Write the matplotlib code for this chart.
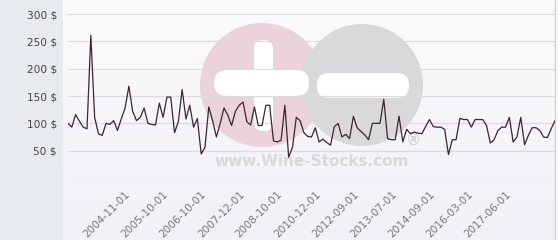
import matplotlib
matplotlib.use("Agg")
import matplotlib.pyplot as plt
import numpy as np
from matplotlib.patches import Circle, FancyBboxPatch, Rectangle
from matplotlib.colors import LinearSegmentedColormap

prices = [100, 93, 116, 104, 93, 90, 261, 111, 81, 78,
          100, 98, 105, 87, 108, 128, 168, 122, 105, 111,
          128, 100, 98, 97, 137, 111, 148, 148, 83, 103,
          162, 108, 133, 93, 109, 44, 56, 130, 105, 75,
          100, 128, 115, 96, 122, 133, 139, 103, 97, 130,
          96, 96, 133, 133, 68, 66, 69, 133, 38, 56,
          111, 105, 83, 76, 75, 92, 66, 71, 65, 60,
          94, 100, 75, 80, 72, 113, 92, 85, 79, 70,
          100, 100, 100, 144, 72, 70, 70, 113, 66, 89,
          81, 84, 82, 81, 94, 107, 94, 93, 93, 89,
          43, 70, 70, 109, 107, 107, 93, 107, 107, 107,
          96, 64, 70, 87, 93, 93, 111, 66, 75, 111,
          61, 78, 92, 92, 87, 75, 74, 90, 105]
tick_index = [15, 25, 35, 45, 55, 65, 75, 85, 95, 105, 115]
tick_labels = ["2004-11-01", "2005-10-01", "2006-10-01", "2007-12-01", "2008-10-01",
               "2010-12-01", "2012-09-01", "2013-07-01", "2014-09-01", "2016-03-01",
               "2017-06-01"]
y_ticks = [0, 50, 100, 150, 200, 250, 300]
y_labels = ["", "50 $", "100 $", "150 $", "200 $", "250 $", "300 $"]

W, H = 560, 240
fig = plt.figure(figsize=(W / 100, H / 100), dpi=100)
fig.patch.set_facecolor("white")

# background panels (figure pixel coords)
bg = fig.add_axes([0, 0, 1, 1], zorder=-10)
bg.axis("off")
bg.add_patch(Rectangle((0, 0), 63, H, color="#e8ebee", lw=0))
grad = np.linspace(0, 1, 100).reshape(-1, 1)
cmap = LinearSegmentedColormap.from_list("g", ["#fbfbfd", "#f1f1f6"])
bg.imshow(grad, cmap=cmap, extent=(63, 555, H, 0), aspect="auto")
bg.plot([555, 555], [0, H], color="#d0d0d0", lw=1)
bg.set_xlim(0, W)
bg.set_ylim(H, 0)

# watermark
pink = "#ecd2da"
grey = "#d9d9db"
bg.add_patch(Circle((262, 85), 62, color=pink, lw=0))
bg.add_patch(Circle((362, 85), 61, color=grey, lw=0))
bg.add_patch(FancyBboxPatch((254, 40), 19, 91, boxstyle="round,pad=0,rounding_size=9",
                            color="white", lw=0))
bg.add_patch(FancyBboxPatch((214, 70), 95, 26, boxstyle="round,pad=0,rounding_size=13",
                            color="white", lw=0))
bg.add_patch(FancyBboxPatch((317, 73), 92, 25, boxstyle="round,pad=0,rounding_size=12",
                            color="white", lw=0))
bg.text(312, 161, "www.Wine-Stocks.com", ha="center", va="center", fontsize=11,
        fontweight="bold", color="#d9d9d9", family="DejaVu Sans")
bg.text(413, 140, "®", ha="center", va="center", fontsize=11,
        color="#d0d0d0", family="DejaVu Sans")

ax = fig.add_axes([68 / W, 62 / H, (555 - 68) / W, (178 - 2) / H])
ax.patch.set_alpha(0)
x = np.arange(len(prices))
ax.plot(x, prices, color="#3b2530", lw=0.9, zorder=3)
ax.set_xlim(0, len(prices) - 1)
ax.set_ylim(0, 322)
ax.set_yticks(y_ticks)
ax.set_yticklabels(y_labels)
ax.set_xticks(tick_index)
ax.set_xticklabels(tick_labels, rotation=45, ha="right", va="top", rotation_mode="anchor")
ax.tick_params(axis="both", length=0, labelsize=7.6, colors="#444444")
ax.tick_params(axis="y", pad=8)
ax.tick_params(axis="x", pad=8)
for t in ax.get_xticklabels():
    t.set_color("#777777")
ax.grid(axis="y", color="#dcdcdc", lw=0.9)
ax.set_axisbelow(True)
for s in ax.spines.values():
    s.set_visible(False)

fig.savefig("out.png", dpi=100)
